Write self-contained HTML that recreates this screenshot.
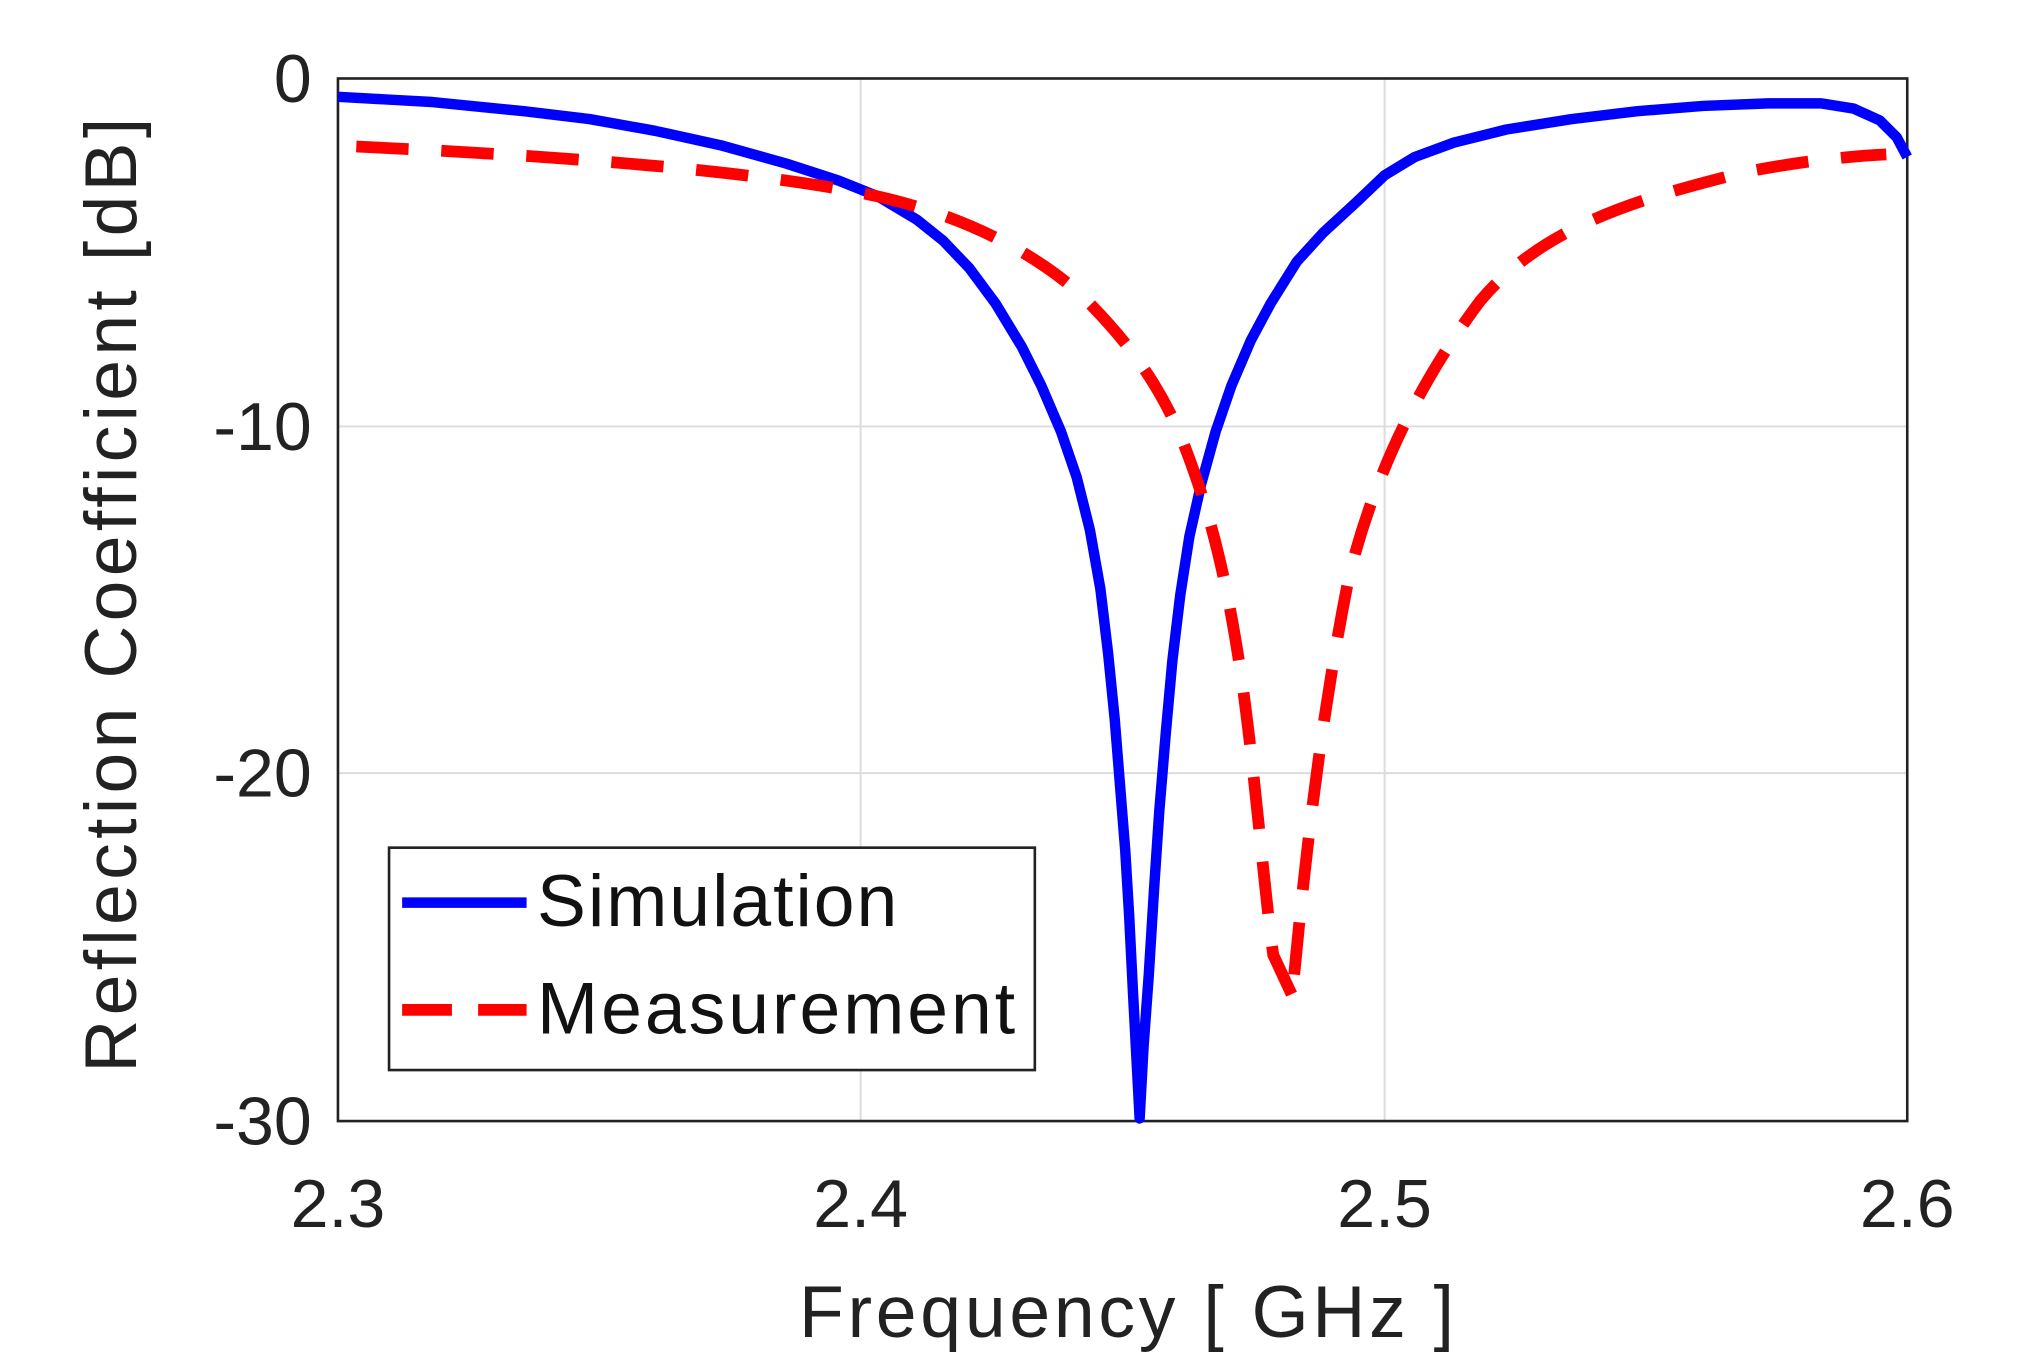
<!DOCTYPE html>
<html><head><style>html,body{margin:0;padding:0;background:#fff;}svg{display:block}</style></head>
<body>
<svg width="2033" height="1367" viewBox="0 0 1552 1045" preserveAspectRatio="none" xmlns="http://www.w3.org/2000/svg" font-family="'Liberation Sans', 'DejaVu Sans', sans-serif">
<rect width="1552" height="1045" fill="#fff"/>
<g stroke="#dcdcdc" stroke-width="1.5">
<line x1="657" y1="60" x2="657" y2="857"/><line x1="1057" y1="60" x2="1057" y2="857"/>
<line x1="258" y1="326" x2="1456" y2="326"/><line x1="258" y1="591" x2="1456" y2="591"/>
</g>
<rect x="258" y="60" width="1198" height="797" fill="none" stroke="#222" stroke-width="2"/>
<g fill="#222" font-size="52">
<text x="238" y="78" text-anchor="end">0</text>
<text x="238" y="344" text-anchor="end">-10</text>
<text x="238" y="609" text-anchor="end">-20</text>
<text x="238" y="875" text-anchor="end">-30</text>
<text x="258" y="938" text-anchor="middle">2.3</text>
<text x="657" y="938" text-anchor="middle">2.4</text>
<text x="1057" y="938" text-anchor="middle">2.5</text>
<text x="1456" y="938" text-anchor="middle">2.6</text>
<text x="860" y="1022" text-anchor="middle" font-size="56" textLength="500">Frequency [ GHz ]</text>
<text transform="translate(104,455) rotate(-90)" text-anchor="middle" font-size="56" textLength="730">Reflection Coefficient [dB]</text>
</g>
<polyline fill="none" stroke="#0000ff" stroke-width="8" stroke-linejoin="round" points="258,74 330,78 400,85 450,91 500,100 550,111 600,125 640,138 670,150 700,168 720,184 740,205 760,232 780,265 795,295 810,330 822,365 832,405 840,450 846,500 851,550 855,600 859,650 862,700 865,760 870,855 873,800 877,745 881,680 885,620 890,560 895,505 901,455 908,410 917,370 928,330 940,295 955,260 970,232 990,200 1010,178 1035,155 1057,134 1080,120 1110,109 1150,99 1200,91 1250,85 1300,81 1350,79 1390,79 1415,83 1435,92 1448,105 1456,120"/>
<path fill="none" stroke="#ff0000" stroke-width="9" stroke-dasharray="40,25" d="M272,112 C400,118 560,128 660,148 C720,160 780,185 825,225 C855,255 880,285 900,330 C920,380 935,430 948,520 C958,590 965,680 972,730 L986,760"/>
<path fill="none" stroke="#ff0000" stroke-width="9" stroke-dasharray="40,25" d="M988,745 C998,640 1010,540 1030,440 C1050,360 1085,290 1130,230 C1180,170 1260,150 1330,132 C1380,122 1420,119 1440,118"/>
<rect x="297" y="648" width="493" height="170" fill="#fff" stroke="#222" stroke-width="2"/>
<line x1="307" y1="690" x2="402" y2="690" stroke="#0000ff" stroke-width="8"/>
<line x1="307" y1="772" x2="402" y2="772" stroke="#ff0000" stroke-width="9" stroke-dasharray="38,20"/>
<text x="410" y="708" font-size="56" fill="#111" textLength="275">Simulation</text>
<text x="410" y="790" font-size="56" fill="#111" textLength="365">Measurement</text>
</svg>
</body></html>
